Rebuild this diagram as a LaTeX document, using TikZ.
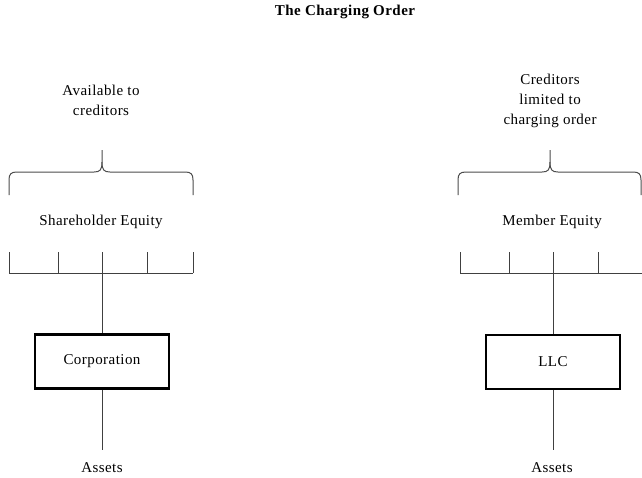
\documentclass[tikz,border=0pt]{standalone}
\usepackage{fontspec}
\setmainfont{Liberation Serif}[LetterSpace=3]
\begin{document}
\begin{tikzpicture}[x=1pt,y=-1pt,
  lbl/.style={font=\fontsize{15}{20}\selectfont, align=center, inner sep=0pt},
  box/.style={draw, line width=2.8pt, minimum width=134pt, minimum height=54pt, font=\fontsize{15}{20}\selectfont},
  ln/.style={line width=0.9pt, draw=black!75},
  brace/.style={line width=1pt, draw=black!70}]
\useasboundingbox (0,0) rectangle (642,477);
\node[font=\bfseries\fontsize{15}{20}\selectfont] (title) at (345,12) {The Charging Order};
% left
\node[lbl] (avail) at (101,100) {Available to\\creditors};
\coordinate (lbtip) at (102,150);
\draw[brace] (9,195) -- (9,180) .. controls (9,174) and (11,172) .. (17,172) -- (94,172) .. controls (100,172) and (102,170) .. (102,162) -- (lbtip);
\draw[brace] (193,195) -- (193,180) .. controls (193,174) and (191,172) .. (185,172) -- (110,172) .. controls (104,172) and (102,170) .. (102,162);
\node[lbl] (she) at (101,222) {Shareholder Equity};
\coordinate (lrl) at (9,273);
\coordinate (lrr) at (193,273);
\draw[ln] (lrl) -- (lrr);
\foreach \x in {9,58,147,193} \draw[ln] (\x,252) -- (\x,273);
\node[box] (corp) at (102,361.5) {Corporation};
\draw[ln] (102,252) -- (corp.north);
\node[lbl] (lassets) at (102,468) {Assets};
\coordinate (lbot) at (102,450);
\draw[ln] (corp.south) -- (lbot);
% right
\node[lbl] (cred) at (550,101) {Creditors\\limited to\\charging order};
\coordinate (rbtip) at (550,150);
\draw[brace] (458,195) -- (458,180) .. controls (458,174) and (460,172) .. (466,172) -- (542,172) .. controls (548,172) and (550,170) .. (550,162) -- (rbtip);
\draw[brace] (641,195) -- (641,180) .. controls (641,174) and (639,172) .. (633,172) -- (558,172) .. controls (552,172) and (550,170) .. (550,162);
\node[lbl] (mem) at (552,222) {Member Equity};
\coordinate (rrl) at (460,273);
\coordinate (rrr) at (642,273);
\draw[ln] (rrl) -- (rrr);
\foreach \x in {460,509,598} \draw[ln] (\x,252) -- (\x,273);
\node[box] (llc) at (553,362) {LLC};
\draw[ln] (553,252) -- (llc.north);
\node[lbl] (rassets) at (552,468) {Assets};
\coordinate (rbot) at (553,450);
\draw[ln] (llc.south) -- (rbot);
\end{tikzpicture}
\end{document}
